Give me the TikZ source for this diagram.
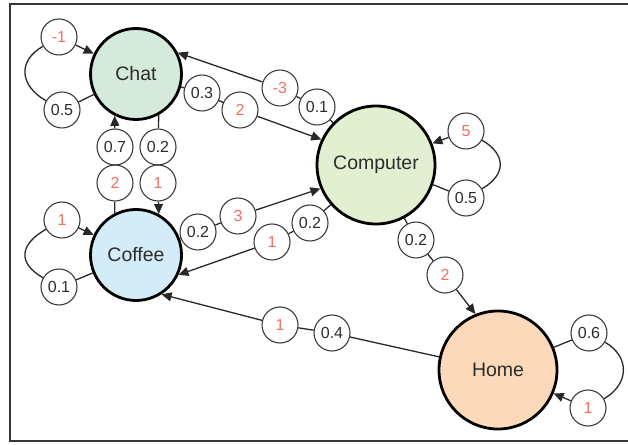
\documentclass[tikz,border=0pt]{standalone}
\usepackage{fontspec}
\setmainfont{Liberation Sans}
\usetikzlibrary{arrows.meta}
\definecolor{chatc}{RGB}{213,234,218}
\definecolor{compc}{RGB}{226,239,209}
\definecolor{coffc}{RGB}{211,236,248}
\definecolor{homec}{RGB}{252,217,186}
\definecolor{txt}{RGB}{45,45,45}
\definecolor{salmon}{RGB}{242,112,100}
\definecolor{lgray}{RGB}{60,60,60}
\definecolor{cgray}{RGB}{40,40,40}
\definecolor{framec}{RGB}{55,55,55}
\begin{document}
\begin{tikzpicture}[x=1pt,y=1pt,
 state/.style={circle,draw=black,line width=2.8pt,minimum size=91pt,inner sep=0pt,font=\fontsize{19.5}{20}\selectfont,text=txt},
 wlab/.style={circle,draw=lgray,line width=1.1pt,fill=white,minimum size=36pt,inner sep=0pt,font=\fontsize{16}{17}\selectfont,text=txt},
 rlab/.style={wlab,text=salmon},
 conn/.style={line width=1.3pt,draw=cgray},
 arr/.style={conn,-{Triangle[length=10pt,width=9pt]}}
]
\useasboundingbox (0,0) rectangle (628,444);
\draw[line width=2pt,draw=framec] (632,440) -- (10,440) -- (10,3) -- (632,3);

\node[state,fill=chatc] (chat) at (136,370) {Chat};
\node[state,fill=compc,minimum size=118pt] (comp) at (376,279) {Computer};
\node[state,fill=coffc] (cof) at (136,189) {Coffee};
\node[state,fill=homec,minimum size=118pt] (home) at (498,74) {Home};

\node[rlab] (cl1) at (59,407) {-1};
\node[wlab] (cl2) at (62,334) {0.5};
\node[wlab] (cc1) at (158,297) {0.2};
\node[rlab] (cc2) at (158,261) {1};
\node[wlab] (fc1) at (115,297) {0.7};
\node[rlab] (fc2) at (115,261) {2};
\node[wlab] (cp1) at (202,351) {0.3};
\node[rlab] (cp2) at (240,334) {2};
\node[wlab] (pc1) at (317,337) {0.1};
\node[rlab] (pc2) at (280,356) {-3};
\node[wlab] (fp1) at (198,212) {0.2};
\node[rlab] (fp2) at (238,228) {3};
\node[wlab] (pf1) at (310,221) {0.2};
\node[rlab] (pf2) at (272,202) {1};
\node[rlab] (pl1) at (466,313) {5};
\node[wlab] (pl2) at (466,246) {0.5};
\node[wlab] (ph1) at (416,204) {0.2};
\node[rlab] (ph2) at (445,169) {2};
\node[wlab] (hf1) at (332,111) {0.4};
\node[rlab] (hf2) at (280,119) {1};
\node[wlab] (hl1) at (589,111) {0.6};
\node[rlab] (hl2) at (588,36) {1};
\node[rlab] (fl1) at (62,224) {1};
\node[wlab] (fl2) at (59,157) {0.1};

% Chat self loop
\draw[conn] (chat) -- (cl2);
\draw[conn] (cl2.150) .. controls +(150:30) and +(210:30) .. (cl1.210);
\draw[arr] (cl1) -- (chat);
% Chat -> Coffee
\draw[conn] (chat.-61) -- (cc1) -- (cc2);
\draw[arr] (cc2) -- (cof.61);
% Coffee -> Chat
\draw[conn] (cof.117) -- (fc2) -- (fc1);
\draw[arr] (fc1) -- (chat.-117);
% Chat -> Computer
\draw[conn] (chat) -- (cp1) -- (cp2);
\draw[arr] (cp2) -- (comp.155);
% Computer -> Chat
\draw[conn] (comp) -- (pc1) -- (pc2);
\draw[arr] (pc2) -- (chat.27);
% Coffee -> Computer
\draw[conn] (cof) -- (fp1) -- (fp2);
\draw[arr] (fp2) -- (comp.203);
% Computer -> Coffee
\draw[conn] (comp) -- (pf1) -- (pf2);
\draw[arr] (pf2) -- (cof.-25);
% Computer self loop
\draw[conn] (comp.-19) -- (pl2);
\draw[conn] (pl2.30) .. controls +(30:28) and +(-30:28) .. (pl1.-30);
\draw[arr] (pl1) -- (comp.21);
% Computer -> Home
\draw[conn] (comp) -- (ph1) -- (ph2);
\draw[arr] (ph2) -- (home.112);
% Home -> Coffee
\draw[conn] (home) -- (hf1) -- (hf2);
\draw[arr] (hf2) -- (cof.-57);
% Home self loop
\draw[conn] (home) -- (hl1);
\draw[conn] (hl1.-30) .. controls +(-30:29) and +(30:29) .. (hl2.30);
\draw[arr] (hl2) -- (home);
% Coffee self loop
\draw[conn] (cof) -- (fl2);
\draw[conn] (fl2.150) .. controls +(150:30) and +(210:30) .. (fl1.210);
\draw[arr] (fl1) -- (cof);
\end{tikzpicture}
\end{document}
